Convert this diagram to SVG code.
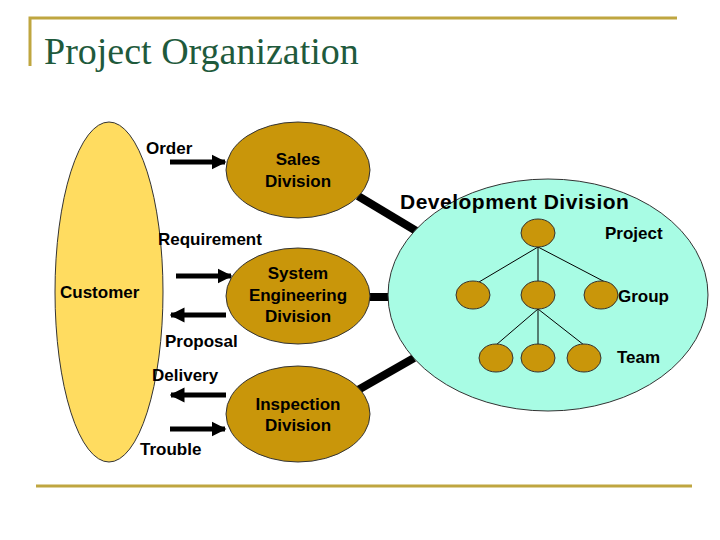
<svg xmlns="http://www.w3.org/2000/svg" width="720" height="540" viewBox="0 0 720 540">
<defs>
<style>
.rule{stroke:#bfa640;stroke-width:3;fill:none}
.lbl{font-family:"Liberation Sans",Arial,sans-serif;font-weight:bold;font-size:17px;fill:#000}
.div{font-family:"Liberation Sans",Arial,sans-serif;font-weight:bold;font-size:17px;fill:#000;text-anchor:middle}
.org{fill:#c9960a;stroke:#333;stroke-width:1}
.arr{stroke:#000;stroke-width:5;fill:none;marker-end:url(#ah)}
.thick{stroke:#000;stroke-width:8}
.thin{stroke:#000;stroke-width:1}
</style>
<marker id="ah" viewBox="0 0 10 10" refX="9" refY="5" markerWidth="3" markerHeight="3.4" orient="auto" markerUnits="strokeWidth"><path d="M0,0L10,5L0,10z" fill="#000"/></marker>
</defs>
<rect width="720" height="540" fill="#fff"/>
<path class="rule" d="M30,66V18H677"/>
<path class="rule" d="M36,486H692"/>
<text x="44" y="64" font-family="Liberation Serif,serif" font-size="38" fill="#1f5a3c">Project Organization</text>
<g id="connectors">
<line class="thick" x1="358" y1="196" x2="418" y2="232"/>
<line class="thick" x1="368" y1="297" x2="390" y2="297"/>
<line class="thick" x1="358" y1="390" x2="414" y2="358"/>
<path class="arr" d="M170,162H225"/>
<path class="arr" d="M176,276H231"/>
<path class="arr" d="M226,315H171"/>
<path class="arr" d="M226,395H171"/>
<path class="arr" d="M170,429H225"/>
</g>
<g id="customer"><ellipse cx="109" cy="292" rx="54" ry="170" fill="#ffdc60" stroke="#333"/><text class="lbl" x="60" y="298">Customer</text></g>
<g id="sales"><ellipse class="org" cx="298" cy="170" rx="72" ry="48"/><text class="div" x="298" y="165">Sales</text><text class="div" x="298" y="187">Division</text></g>
<g id="syseng"><ellipse class="org" cx="298" cy="296" rx="72" ry="48"/><text class="div" x="298" y="279">System</text><text class="div" x="298" y="301">Engineering</text><text class="div" x="298" y="322">Division</text></g>
<g id="inspection"><ellipse class="org" cx="298" cy="414" rx="72" ry="48"/><text class="div" x="298" y="410">Inspection</text><text class="div" x="298" y="431">Division</text></g>
<g id="development">
<ellipse cx="548" cy="295" rx="160" ry="116" fill="#a8fce4" stroke="#333"/>
<g class="thin"><line x1="538" y1="247" x2="479" y2="282"/><line x1="538" y1="247" x2="538" y2="282"/><line x1="538" y1="247" x2="605" y2="282"/><line x1="538" y1="309" x2="496" y2="345"/><line x1="538" y1="309" x2="538" y2="345"/><line x1="538" y1="309" x2="584" y2="345"/></g>
<g class="org"><ellipse cx="538" cy="233" rx="17" ry="14"/><ellipse cx="473" cy="295" rx="17" ry="14"/><ellipse cx="538" cy="295" rx="17" ry="14"/><ellipse cx="601" cy="295" rx="17" ry="14"/><ellipse cx="496" cy="358" rx="17" ry="14"/><ellipse cx="538" cy="358" rx="17" ry="14"/><ellipse cx="584" cy="358" rx="17" ry="14"/></g>
<text x="400" y="209" font-family="Liberation Sans,Arial,sans-serif" font-weight="bold" font-size="21" letter-spacing="0.5">Development Division</text>
<text class="lbl" x="605" y="239">Project</text><text class="lbl" x="618" y="302">Group</text><text class="lbl" x="617" y="363">Team</text>
</g>
<g id="labels">
<text class="lbl" x="146" y="154">Order</text>
<text class="lbl" x="158" y="245">Requirement</text>
<text class="lbl" x="165" y="347">Proposal</text>
<text class="lbl" x="152" y="381">Delivery</text>
<text class="lbl" x="140" y="455">Trouble</text>
</g>
</svg>
